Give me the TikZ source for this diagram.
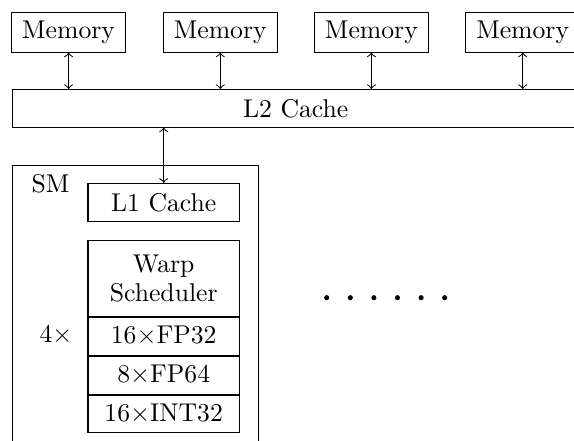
\documentclass[tikz,border=0pt]{standalone}
\begin{document}
\begin{tikzpicture}[
  x={(0.3891pt,0)}, y={(0,-0.3891pt)},
  box/.style={draw, line width=0.4pt, inner sep=0pt, align=center},
  membox/.style={box, minimum width=44.3pt, minimum height=15.2pt},
  unitbox/.style={box, minimum width=58.9pt},
  link/.style={<->, line width=0.4pt},
  dotmark/.style={circle, fill=black, inner sep=0pt, minimum size=2pt},
]
\clip (0,0) rectangle (574,441);

% memory controllers
\node[membox] (m1) at (68.6,32.5)   {Memory};
\node[membox] (m2) at (220.3,32.5) {Memory};
\node[membox] (m3) at (371.4,32.5) {Memory};
\node[membox] (m4) at (522.7,32.5) {Memory};

% shared L2
\node[box, minimum width=220.5pt, minimum height=14.6pt] (l2) at (295.7,108.3) {L2 Cache};

\foreach \m in {m1,m2,m3,m4}
  \draw[link] (\m.south) -- (\m.south |- l2.north);

% streaming multiprocessor
\node[draw, line width=0.4pt, inner sep=0pt, anchor=north west,
      minimum width=95.6pt, minimum height=125pt] (sm) at (12.3,165) {};
\node (smlabel) at (50.5,184) {SM};

\node[unitbox, minimum height=14.9pt] (l1) at (163.7,202.5) {L1 Cache};
\draw[link] (l1.north |- l2.south) -- (l1.north);

\node[unitbox, minimum height=29.4pt] (ws) at (163.7,278.5) {Warp\\[-1pt]Scheduler};
\node[unitbox, minimum height=14.7pt, anchor=north] (fp32) at (ws.south) {16$\times$FP32};
\node[unitbox, minimum height=14.8pt, anchor=north] (fp64) at (fp32.south) {8$\times$FP64};
\node[unitbox, minimum height=14.5pt, anchor=north] (int32) at (fp64.south) {16$\times$INT32};
\node (times) at (56,335) {4$\times$};

% further SMs
\foreach \i in {0,...,5}
  \node[dotmark] (dot\i) at (326.7+23.6*\i,297.7) {};
\end{tikzpicture}
\end{document}
